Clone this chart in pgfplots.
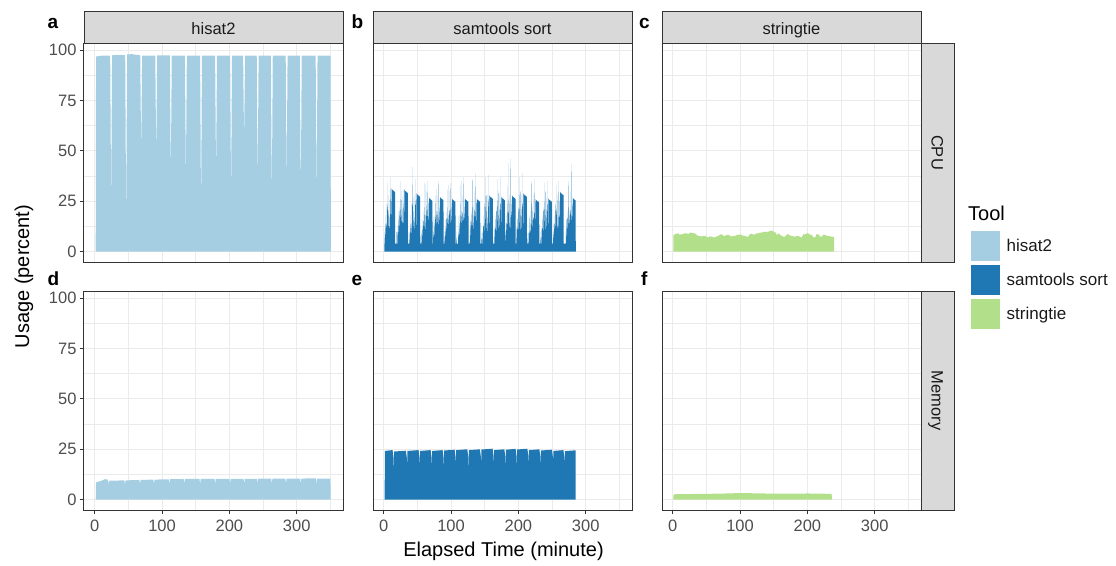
\documentclass[border=0pt]{standalone}
\usepackage{fontspec}
\setmainfont{Liberation Sans}
\usepackage{pgfplots}
\pgfplotsset{compat=1.18}

\definecolor{hisatc}{HTML}{A6CEE3}
\definecolor{samc}{HTML}{1F78B4}
\definecolor{stringc}{HTML}{B2DF8A}
\definecolor{grey10}{HTML}{1A1A1A}
\definecolor{grey20}{HTML}{333333}
\definecolor{grey30}{HTML}{4D4D4D}
\definecolor{grey85}{HTML}{D9D9D9}
\definecolor{grey92}{HTML}{EBEBEB}

\pgfplotsset{
  panel/.style={
    scale only axis, width=259pt, height=219pt, anchor=south west,
    xmin=-15.9, xmax=368.7, ymin=-5.1, ymax=103.5,
    axis line style={draw=grey20, line width=1pt},
    xtick={0,100,200,300}, minor xtick={50,150,250,350},
    ytick={0,25,50,75,100}, minor ytick={12.5,37.5,62.5,87.5},
    grid=both,
    major grid style={draw=grey92, line width=1.1pt},
    minor grid style={draw=grey92, line width=0.6pt},
    tick align=outside, tickpos=left,
    major tick length=4pt, minor tick length=0pt,
    tick style={draw=grey20, line width=1pt},
    ticklabel style={font=\fontsize{16.5}{16.5}\selectfont, text=grey30},
    xticklabel style={yshift=-2pt},
    /pgf/number format/assume math mode=true,
  },
  nox/.style={xmajorticks=false, xticklabels={}},
  noy/.style={ymajorticks=false, yticklabels={}},
}

\begin{document}
\begin{tikzpicture}
\useasboundingbox (0pt,0pt) rectangle (1116pt,-565pt);

% a: hisat2 CPU
\begin{axis}[panel, nox, at={(84pt,-262pt)}]
\addplot[fill=hisatc, draw=none] coordinates {
 (1.5,0) (2,96.8) (10,97.2) (23,97.3) (24.4,22) (25.8,97.4) (35,97.6) (45.3,97.5)
 (46.7,12) (48.1,97.8) (55,98) (67.6,97.4) (69,47) (70.4,97.3) (90,97.3) (91.3,44)
 (92.7,97.3) (111.6,97.4) (113,34) (114.4,97.3) (134,97.3) (135.4,34) (136.8,97.2)
 (156.5,97.3) (157.9,16) (159.3,97.2) (178.8,97.2) (180.2,35) (181.6,97.3)
 (201.1,97.3) (202.5,24) (203.9,97.3) (220.4,97.3) (221.8,54) (223.2,97.3)
 (240.6,97.3) (242,31) (243.4,97.3) (261.6,97.3) (263,22) (264.4,97.3)
 (283.6,97.3) (285,33) (286.4,97.3) (304.6,97.3) (306,24) (307.4,97.3)
 (328.1,97.3) (329.5,26) (330.9,97.3) (350.3,97.2) (350.6,0)
};
\end{axis}

% b: samtools sort CPU
\begin{axis}[panel, nox, noy, at={(373pt,-262pt)}]
\addplot[fill=samc, draw=none] coordinates {
 (1,0) (1.1,4)
 (1.3,4) (1.8,10) (2.3,4) (2.8,18) (3.3,4) (3.8,14) (4.3,4) (4.8,24) (5.3,4) (5.8,34) (6.3,4)
 (6.8,20) (7.3,4) (7.8,28) (8.3,4) (8.8,17) (9.3,4) (9.8,37) (10.3,4) (10.8,26) (11.3,4)
 (11.8,31.4) (12.4,30.8) (14.8,30.2) (16.8,29.6) (17.1,4) (18.3,4) (18.6,10) (18.9,4)
 (20.2,4) (20.7,12) (21.2,4) (21.7,16) (22.2,4) (22.7,20) (23.2,4) (23.7,22) (24.2,4) (24.7,35) (25.2,4)
 (25.7,18) (26.2,4) (26.7,30) (27.2,4) (27.7,21) (28.2,4) (28.7,31) (29.2,4) (29.7,24) (30.2,4)
 (30.7,30.9) (31.3,30.3) (33.7,29.7) (35.7,29.1) (36,4) (37.2,4) (37.5,10) (37.8,4)
 (38.5,4) (39,10) (39.5,4) (40,18) (40.5,4) (41,14) (41.5,4) (42,24) (42.5,4) (43,42) (43.5,4)
 (44,20) (44.5,4) (45,28) (45.5,4) (46,17) (46.5,4) (47,36) (47.5,4) (48,26) (48.5,4)
 (49,29) (49.6,28.4) (52,27.8) (54,27.2) (54.3,4) (55.5,4) (55.8,10) (56.1,4)
 (56.8,4) (57.3,12) (57.8,4) (58.3,16) (58.8,4) (59.3,20) (59.8,4) (60.3,22) (60.8,4) (61.3,34) (61.8,4)
 (62.3,18) (62.8,4) (63.3,30) (63.8,4) (64.3,21) (64.8,4) (65.3,35) (65.8,4) (66.3,24) (66.8,4)
 (67.3,27) (67.9,26.4) (70.3,25.8) (72.3,25.2) (72.6,4)
 (73.2,4) (73.7,10) (74.2,4) (74.7,18) (75.2,4) (75.7,14) (76.2,4) (76.7,24) (77.2,4) (77.7,31) (78.2,4)
 (78.7,20) (79.2,4) (79.7,28) (80.2,4) (80.7,17) (81.2,4) (81.7,35) (82.2,4) (82.7,26) (83.2,4)
 (83.7,27.3) (84.3,26.7) (86.7,26.1) (88.7,25.5) (89,4) (90.2,4) (90.5,10) (90.8,4)
 (91,4) (91.5,12) (92,4) (92.5,16) (93,4) (93.5,20) (94,4) (94.5,22) (95,4) (95.5,33) (96,4)
 (96.5,18) (97,4) (97.5,30) (98,4) (98.5,21) (99,4) (99.5,34) (100,4) (100.5,24) (101,4)
 (101.5,26.5) (102.1,25.9) (104.5,25.3) (106.5,24.7) (106.8,4) (108,4) (108.3,10) (108.6,4)
 (110.3,4) (110.8,10) (111.3,4) (111.8,18) (112.3,4) (112.8,14) (113.3,4) (113.8,24) (114.3,4) (114.8,35) (115.3,4)
 (115.8,20) (116.3,4) (116.8,28) (117.3,4) (117.8,17) (118.3,4) (118.8,37) (119.3,4) (119.8,26) (120.3,4)
 (120.8,26.5) (121.4,25.9) (123.8,25.3) (125.8,24.7) (126.1,4)
 (127.7,4) (128.2,12) (128.7,4) (129.2,16) (129.7,4) (130.2,20) (130.7,4) (131.2,22) (131.7,4) (132.2,36) (132.7,4)
 (133.2,18) (133.7,4) (134.2,30) (134.7,4) (135.2,21) (135.7,4) (136.2,39) (136.7,4) (137.2,24) (137.7,4)
 (138.2,26.5) (138.8,25.9) (141.2,25.3) (143.2,24.7) (143.5,4) (144.7,4) (145,10) (145.3,4)
 (146.5,4) (147,10) (147.5,4) (148,18) (148.5,4) (149,14) (149.5,4) (150,24) (150.5,4) (151,37) (151.5,4)
 (152,20) (152.5,4) (153,28) (153.5,4) (154,17) (154.5,4) (155,38) (155.5,4) (156,26) (156.5,4)
 (157,28) (157.6,27.4) (160,26.8) (162,26.2) (162.3,4)
 (164.3,4) (164.8,12) (165.3,4) (165.8,16) (166.3,4) (166.8,20) (167.3,4) (167.8,22) (168.3,4) (168.8,36) (169.3,4)
 (169.8,18) (170.3,4) (170.8,30) (171.3,4) (171.8,21) (172.3,4) (172.8,37) (173.3,4) (173.8,24) (174.3,4)
 (174.8,27.3) (175.4,26.7) (177.8,26.1) (179.8,25.5) (180.1,4)
 (180.4,4) (180.7,10) (181.2,4) (181.7,18) (182.2,4) (182.7,14) (183.2,4) (183.7,24) (184.2,4) (184.7,44) (185.2,4)
 (185.7,20) (186.2,4) (186.7,28) (187.2,4) (187.7,17) (188.2,4) (188.7,46) (189.2,4) (189.7,26) (190.2,4)
 (190.7,28) (191.3,27.4) (193.7,26.8) (195.7,26.2) (196,4)
 (197,4) (197.5,12) (198,4) (198.5,16) (199,4) (199.5,20) (200,4) (200.5,22) (201,4) (201.5,37) (202,4)
 (202.5,18) (203,4) (203.5,30) (204,4) (204.5,21) (205,4) (205.5,39) (206,4) (206.5,24) (207,4)
 (207.5,29) (208.1,28.4) (210.5,27.8) (212.5,27.2) (212.8,4) (214,4) (214.3,10) (214.6,4)
 (215.3,4) (215.8,10) (216.3,4) (216.8,18) (217.3,4) (217.8,14) (218.3,4) (218.8,24) (219.3,4) (219.8,35) (220.3,4)
 (220.8,20) (221.3,4) (221.8,28) (222.3,4) (222.8,17) (223.3,4) (223.8,36) (224.3,4) (224.8,26) (225.3,4)
 (225.8,26.2) (226.4,25.6) (228.8,25) (230.8,24.4) (231.1,4) (232.3,4) (232.6,10) (232.9,4)
 (234.1,4) (234.6,12) (235.1,4) (235.6,16) (236.1,4) (236.6,20) (237.1,4) (237.6,22) (238.1,4) (238.6,34) (239.1,4)
 (239.6,18) (240.1,4) (240.6,30) (241.1,4) (241.6,21) (242.1,4) (242.6,35) (243.1,4) (243.6,24) (244.1,4)
 (244.6,26.5) (245.2,25.9) (247.6,25.3) (249.6,24.7) (249.9,4)
 (251.5,4) (252,10) (252.5,4) (253,18) (253.5,4) (254,14) (254.5,4) (255,24) (255.5,4) (256,33) (256.5,4)
 (257,20) (257.5,4) (258,28) (258.5,4) (259,17) (259.5,4) (260,35) (260.5,4) (261,26) (261.5,4)
 (262,29.8) (262.6,29.2) (265,28.6) (267,28) (267.3,4)
 (270.3,4) (270.8,12) (271.3,4) (271.8,16) (272.3,4) (272.8,20) (273.3,4) (273.8,22) (274.3,4) (274.8,35) (275.3,4)
 (275.8,18) (276.3,4) (276.8,30) (277.3,4) (277.8,21) (278.3,4) (278.8,43.5) (279.3,4) (279.8,24) (280.3,4)
 (280.8,27) (281.4,26.4) (283.5,25.8) (285,25.4) (285.2,0)
};
\end{axis}

% c: stringtie CPU
\begin{axis}[panel, nox, noy, at={(662pt,-262pt)},
  legend style={at={(axis description cs:1.1892,0.1461)}, anchor=north west,
    draw=none, fill=none, inner sep=0pt, row sep=2.5pt,
    font=\fontsize{17}{17}\selectfont, nodes={inner sep=0pt, text=grey10}},
  legend cell align=left,
  legend image code/.code={\fill[#1, draw=white, line width=0.6pt] (0pt,-15.5pt) rectangle (30pt,15.5pt); \path (36pt,0pt);}]
\addplot[fill=stringc, draw=none, forget plot] coordinates {
 (0.8,0) (0.9,8.2) (4,8.8) (8.4,9.1) (10,8.5) (13.3,8.6) (16,8.9) (20,9.2) (23.2,8.8)
 (26,9.5) (28.2,9.4) (31,9.2) (33.1,9.1) (36,8.2) (38.1,7.9) (43,7.5) (45,7.9) (48,7.8)
 (50,7.4) (52.9,7.1) (55,7.6) (57.9,7.5) (60,7.2) (62.9,7.1) (65,7.6) (67.8,7.8) (70,8.5)
 (72.8,8.6) (75,8.0) (77.7,7.8) (80,8.3) (82.7,8.4) (85,7.9) (87.6,7.5) (90,7.9) (92.6,7.8)
 (95,8.3) (97.5,8.4) (100,8.5) (102.5,8.3) (105,7.8) (107.4,7.9) (110,7.4) (112.4,7.5)
 (115,8.9) (117.3,8.8) (120,8.5) (122.3,8.6) (125,9.2) (127.2,9.1) (130,9.5) (132.2,9.4)
 (135,9.9) (137.2,9.8) (140,9.9) (142.1,9.9) (145,10.4) (147.1,10.3) (149,10.5) (150,9.5)
 (152,9.8) (155,8.2) (157,9.1) (160,8.3) (161.9,7.8) (165,7.4) (166.9,7.5) (170,8.7)
 (171.8,8.6) (175,7.9) (176.8,7.9) (180,7.5) (181.7,7.5) (185,7.8) (186.7,7.8) (190,7.2)
 (191.6,7.1) (194,8.7) (196.6,8.6) (200,9.2) (201.5,9.1) (204,8.4) (206.5,8.3) (209,7.1)
 (211.5,7.1) (214,8.8) (216.4,8.6) (219,7.5) (221.4,7.5) (224,8.5) (226.3,8.3) (229,7.9)
 (231.3,7.8) (234,7.6) (236.2,7.5) (238,7.4) (239.7,7.3) (239.8,0)
};
\addlegendimage{fill=hisatc}
\addlegendentry{hisat2}
\addlegendimage{fill=samc}
\addlegendentry{samtools sort}
\addlegendimage{fill=stringc}
\addlegendentry{stringtie}
\end{axis}

% d: hisat2 Memory
\begin{axis}[panel, at={(84pt,-510pt)}]
\addplot[fill=hisatc, draw=none] coordinates {
 (1.5,0) (2,8.6) (10,9.4) (15,10.2) (19.3,10) (20.2,7.5) (21.1,9.4) (44.1,9.6) (45,7.5)
 (45.9,9.6) (66.4,9.8) (67.3,7.6) (68.2,9.8) (87.1,10) (88,7.6) (88.9,10) (110.1,10.1)
 (111,7.7) (111.9,10.2) (132.1,10.3) (133,7.7) (133.9,10.3) (155.6,10.3) (156.5,7.8)
 (157.4,10.4) (177.9,10.4) (178.8,7.8) (179.7,10.4) (200.1,10.4) (201,7.8) (201.9,10.4)
 (221.1,10.4) (222,7.8) (222.9,10.4) (241.1,10.4) (242,7.9) (242.9,10.5) (262.1,10.5)
 (263,7.9) (263.9,10.5) (283.1,10.5) (284,7.9) (284.9,10.5) (305.1,10.5) (306,7.9)
 (306.9,10.5) (328.6,10.6) (329.5,7.9) (330.4,10.5) (350,10.5) (350.5,0)
};
\end{axis}

% e: samtools sort Memory
\begin{axis}[panel, noy, at={(373pt,-510pt)}]
\addplot[fill=samc, draw=none] coordinates {
 (1.5,0) (1.6,24.2) (13.1,24.6) (14.7,20.6) (15.3,10)
 (15.4,23.9) (32.9,24.3) (34.5,20.3) (35.1,10)
 (35.2,24.2) (51.8,24.6) (53.4,20.6) (54,10)
 (54.1,24.2) (69.6,24.6) (71.2,20.6) (71.8,10)
 (71.9,24.2) (87.4,24.6) (89,20.6) (89.6,10)
 (89.7,24.4) (105.3,24.8) (106.9,20.8) (107.5,10)
 (107.6,24.6) (124.1,25) (125.7,21) (126.3,10)
 (126.4,24.6) (142.8,25) (144.4,21) (145,10)
 (145.1,24.9) (161.7,25.3) (163.3,21.3) (163.9,10)
 (164,24.6) (179.1,25) (180.7,21) (181.3,10)
 (181.4,24.8) (195.8,25.2) (197.4,21.2) (198,10)
 (198.1,24.9) (213.3,25.3) (214.9,21.3) (215.5,10)
 (215.6,24.6) (231.1,25) (232.7,21) (233.3,10)
 (233.4,24.4) (249.8,24.8) (251.4,20.8) (252,10)
 (252.1,24.2) (266.8,24.6) (268.4,20.6) (269,10)
 (269.1,24.1) (284.8,24.5) (285,0)
};
\end{axis}

% f: stringtie Memory
\begin{axis}[panel, noy, at={(662pt,-510pt)}]
\addplot[fill=stringc, draw=none] coordinates {
 (1,0) (1.2,2.7) (20,2.8) (50,2.9) (80,3.1) (100,3.3) (120,3.2) (150,3.0)
 (180,3.0) (200,3.1) (220,3.0) (236,2.9) (236.5,0)
};
\end{axis}

% facet strips
\foreach \x/\lab in {84/hisat2, 373/samtools sort, 662/stringtie} {
  \draw[fill=grey85, draw=grey20, line width=0.8pt] (\x pt,-11pt) rectangle ++(259pt,-32pt);
  \node[anchor=base, text=grey10, font=\fontsize{16.5}{16.5}\selectfont] at (\x pt+129.5pt,-34.3pt) {\lab};
}
\draw[fill=grey85, draw=grey20, line width=0.8pt] (921pt,-43pt) rectangle (954pt,-262pt);
\draw[fill=grey85, draw=grey20, line width=0.8pt] (921pt,-291pt) rectangle (954pt,-510pt);
\node[rotate=-90, anchor=base, text=grey10, font=\fontsize{16.5}{16.5}\selectfont] at (931.5pt,-152.5pt) {CPU};
\node[rotate=-90, anchor=base, text=grey10, font=\fontsize{16.5}{16.5}\selectfont] at (931.5pt,-400.5pt) {Memory};

% panel tags
\foreach \x/\y/\t in {47.5/28.4/a, 351.5/28.4/b, 639/28.4/c, 47.5/285/d, 351.5/285/e, 641/285/f}
  \node[anchor=base west, inner sep=0pt, font=\fontsize{19}{19}\selectfont\bfseries] at (\x pt,-\y pt) {\t};

% axis titles
\node[rotate=90, font=\fontsize{20}{20}\selectfont] at (24pt,-276.5pt) {Usage (percent)};
\node[anchor=base, font=\fontsize{20}{20}\selectfont] at (503.5pt,-556.7pt) {Elapsed Time (minute)};

% legend title
\node[anchor=base west, inner sep=0pt, font=\fontsize{20}{20}\selectfont] at (968pt,-220.7pt) {Tool};
\end{tikzpicture}
\end{document}
